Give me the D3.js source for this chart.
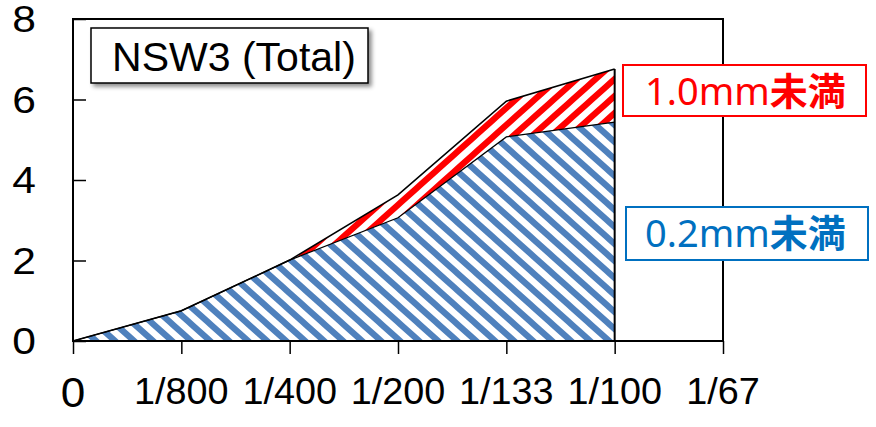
<!DOCTYPE html>
<html>
<head>
<meta charset="utf-8">
<script src="https://cdn.jsdelivr.net/npm/d3@7"></script>
<style>
  body { margin: 0; background: #fff; }
  svg { display: block; }
</style>
</head>
<body>
<div id="main"></div>
<script>
const w = 876, h = 427;
const margin = {top: 19, right: 153, bottom: 86, left: 73};

// data
const categories = ['0', '1/800', '1/400', '1/200', '1/133', '1/100', '1/67'];
const totalValues = [0, 0.75, 2.01, 3.63, 5.96, 6.76];      // 1.0mm未満 (top)
const under02Values = [0, 0.75, 2.01, 3.06, 5.07, 5.44];    // 0.2mm未満
const yTicks = [0, 2, 4, 6, 8];
const titleText = 'NSW3 (Total)';
const legendItems = [
  {num: '1.0mm', jp: '未満', color: '#ff0000'},
  {num: '0.2mm', jp: '未満', color: '#0070c0'}
];

const svg = d3.select('#main')
              .append('svg')
              .attr('width', w)
              .attr('height', h);

const x = d3.scalePoint()
            .domain(categories)
            .range([margin.left, w - margin.right]);

const y = d3.scaleLinear()
            .domain([0, 8])
            .range([h - margin.bottom, margin.top]);

const defs = svg.append('defs');

// hatch patterns (lines run past the tile so the stripes join up)
function hatch(id, color, dir) {
  const pw = 19, ph = 17;
  const p = defs.append('pattern')
                .attr('id', id)
                .attr('patternUnits', 'userSpaceOnUse')
                .attr('width', pw)
                .attr('height', ph);
  p.append('rect').attr('width', pw).attr('height', ph).attr('fill', '#fff');
  let d = '';
  [-1, 0, 1].forEach(k => {
    const ox = k * pw;
    if (dir === 'down') d += `M${ox - pw},${-ph}L${ox + 2 * pw},${2 * ph}`;
    else d += `M${ox - pw},${2 * ph}L${ox + 2 * pw},${-ph}`;
  });
  p.append('path')
   .attr('d', d)
   .attr('stroke', color)
   .attr('stroke-width', 6.2);
}
hatch('blueHatch', '#4f81bd', 'down');
hatch('redHatch', '#ff0000', 'up');

const shadow = defs.append('filter')
                   .attr('id', 'shadow')
                   .attr('x', '-10%').attr('y', '-20%')
                   .attr('width', '130%').attr('height', '160%');
shadow.append('feDropShadow')
      .attr('dx', 3).attr('dy', 3)
      .attr('stdDeviation', 2)
      .attr('flood-color', '#000')
      .attr('flood-opacity', 0.45);

const pts = totalValues.map((v, i) => ({cat: categories[i], top: v, low: under02Values[i]}));

// red band between 0.2mm and total
svg.append('path')
   .datum(pts)
   .attr('fill', 'url(#redHatch)')
   .attr('d', d3.area()
                .x(d => x(d.cat))
                .y0(d => y(d.low))
                .y1(d => y(d.top)));

// blue area
svg.append('path')
   .datum(pts)
   .attr('fill', 'url(#blueHatch)')
   .attr('d', d3.area()
                .x(d => x(d.cat))
                .y0(y(0))
                .y1(d => y(d.low)));

// outlines
svg.append('path')
   .datum(pts)
   .attr('fill', 'none')
   .attr('stroke', '#000')
   .attr('stroke-width', 1.2)
   .attr('d', d3.line().x(d => x(d.cat)).y(d => y(d.low)));

svg.append('path')
   .datum(pts)
   .attr('fill', 'none')
   .attr('stroke', '#000')
   .attr('stroke-width', 1.6)
   .attr('d', d3.line().x(d => x(d.cat)).y(d => y(d.top)));

const last = pts[pts.length - 1];
svg.append('line')
   .attr('x1', x(last.cat)).attr('x2', x(last.cat))
   .attr('y1', y(0)).attr('y2', y(last.top))
   .attr('stroke', '#000')
   .attr('stroke-width', 2);

// frame
svg.append('rect')
   .attr('x', margin.left)
   .attr('y', margin.top)
   .attr('width', w - margin.right - margin.left)
   .attr('height', h - margin.bottom - margin.top)
   .attr('fill', 'none')
   .attr('stroke', '#000')
   .attr('stroke-width', 2);

// x axis ticks + labels
const xAxis = svg.append('g')
                 .attr('transform', `translate(0,${y(0)})`)
                 .call(d3.axisBottom(x).tickSize(13).tickSizeOuter(0).tickFormat(''));
xAxis.select('.domain').remove();
xAxis.selectAll('.tick line').attr('stroke', '#000').attr('stroke-width', 1.5);

svg.append('g')
   .selectAll('text')
   .data(categories)
   .enter()
   .append('text')
   .attr('transform', d => `translate(${x(d)},${d === '0' ? 407 : 404}) scale(1.05,1)`)
   .attr('text-anchor', 'middle')
   .attr('font-family', 'Liberation Sans, Arial, sans-serif')
   .attr('font-size', d => d === '0' ? 42 : 36)
   .attr('fill', '#000')
   .text(d => d);

// y axis ticks (inside) + labels
const yAxis = svg.append('g')
                 .attr('transform', `translate(${margin.left},0)`)
                 .call(d3.axisRight(y).tickValues(yTicks).tickSize(13).tickSizeOuter(0).tickFormat(''));
yAxis.select('.domain').remove();
yAxis.selectAll('.tick line').attr('stroke', '#000').attr('stroke-width', 1.5);

svg.append('g')
   .selectAll('text')
   .data(yTicks)
   .enter()
   .append('text')
   .attr('transform', d => `translate(24,${y(d) + 13}) scale(1.15,1)`)
   .attr('text-anchor', 'middle')
   .attr('font-family', 'Liberation Sans, Arial, sans-serif')
   .attr('font-size', 37)
   .attr('fill', '#000')
   .text(d => d);

// title box
svg.append('rect')
   .attr('x', 91).attr('y', 28)
   .attr('width', 277).attr('height', 55)
   .attr('fill', '#fff')
   .attr('stroke', '#000')
   .attr('stroke-width', 1.5)
   .attr('filter', 'url(#shadow)');

svg.append('text')
   .attr('x', 234).attr('y', 71)
   .attr('text-anchor', 'middle')
   .attr('font-family', 'Liberation Sans, Arial, sans-serif')
   .attr('font-size', 41)
   .attr('fill', '#000')
   .text(titleText);

// legend labels
const legendPos = [{x: 623, y: 65, w: 243, h: 51, base: 105},
                   {x: 626, y: 207, w: 242, h: 53, base: 247}];

const leg = svg.append('g')
               .selectAll('g')
               .data(legendItems)
               .enter()
               .append('g');

leg.append('rect')
   .attr('x', (d, i) => legendPos[i].x)
   .attr('y', (d, i) => legendPos[i].y)
   .attr('width', (d, i) => legendPos[i].w)
   .attr('height', (d, i) => legendPos[i].h)
   .attr('fill', '#fff')
   .attr('stroke', d => d.color)
   .attr('stroke-width', 2);

const legText = leg.append('text')
                   .attr('x', 645)
                   .attr('y', (d, i) => legendPos[i].base)
                   .attr('font-family', '"Noto Sans", "Noto Sans CJK JP", sans-serif')
                   .attr('font-size', 38)
                   .attr('fill', d => d.color);
legText.append('tspan').text(d => d.num);
legText.append('tspan')
       .attr('font-family', '"Noto Sans CJK JP", sans-serif')
       .attr('font-weight', 'bold')
       .text(d => d.jp);
</script>
</body>
</html>
